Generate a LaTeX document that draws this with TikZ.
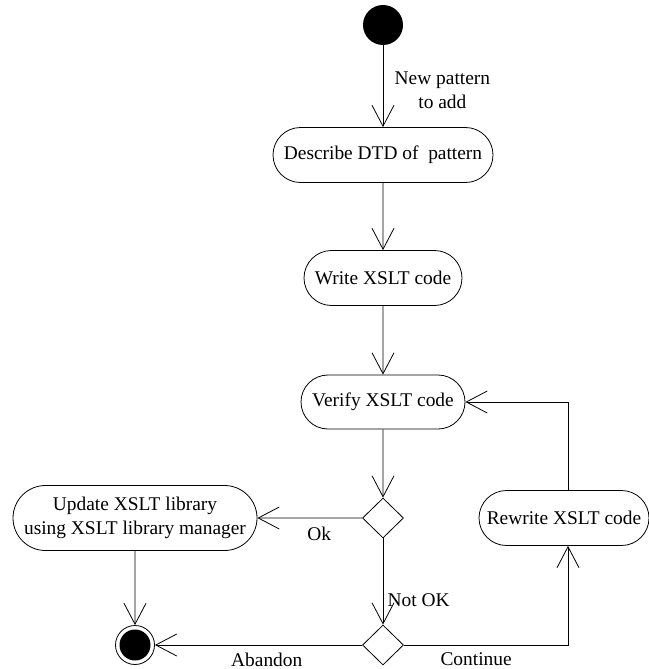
\documentclass[tikz,border=0pt]{standalone}
\usepackage{fontspec}
\setmainfont{Liberation Serif}
\usepackage{tikz}
\usetikzlibrary{arrows.meta, positioning, shapes.geometric, shapes.misc}

\begin{document}
\begin{tikzpicture}[
          x=1pt, y=-1pt,
          every node/.style={font=\fontsize{19.4}{23.5}\selectfont},
          activity/.style={rounded rectangle, draw, line width=0.8pt, inner sep=0pt, align=center},
          decision/.style={diamond, draw, line width=0.8pt, inner sep=0pt, minimum width=41pt, minimum height=40pt},
          flow/.style={->, draw, line width=0.8pt},
          >={Straight Barb[length=21pt, width=22pt, line width=0.8pt]}
        ]
        \useasboundingbox (0,0) rectangle (648,669);
        \node [circle, fill=black, minimum size=40pt, inner sep=0pt] (start) at (383,25) {};
        \node [activity, minimum width=220pt, minimum height=55pt] (dtd) at (383,155) {Describe DTD of\ \ pattern};
        \node [activity, minimum width=158pt, minimum height=55pt] (write) at (383,278) {Write XSLT code};
        \node [activity, minimum width=164pt, minimum height=54pt] (verify) at (383,402) {Verify XSLT code};
        \node [decision] (d1) at (383,518) {};
        \node [decision] (d2) at (383,645) {};
        \node [activity, minimum width=244pt, minimum height=65pt] (update) at (135,518) {Update XSLT library\\using XSLT library manager};
        \node [activity, minimum width=170pt, minimum height=55pt] (rewrite) at (564,518) {Rewrite XSLT code};
        \node [circle, draw, line width=0.8pt, minimum size=39pt, inner sep=0pt] (end) at (135,645) {};
        \node [circle, fill=black, minimum size=31pt, inner sep=0pt] (endin) at (end.center) {};
        \coordinate (c1) at (568,645);
        \coordinate (c2) at (568,402);

        \path [flow] (start) -- (dtd) node [pos=0.55, right=8pt, align=center] {New pattern\\to add};
        \path [flow] (dtd) -- (write);
        \path [flow] (write) -- (verify);
        \path [flow] (verify) -- (d1);
        \path [flow] (d1) -- (update) node [pos=0.41, below=5pt] {Ok};
        \path [flow] (update) -- (end);
        \path [flow] (d1) -- (d2) node [pos=0.72, right=1pt] {Not OK};
        \path [flow] (d2) -- (end) node [pos=0.46, below=4pt] {Abandon};
        \path [flow] (d2.east) -- (c1) node [pos=0.44, below=4pt] {Continue} -- (rewrite.south -| c1);
        \path [flow] (rewrite.north -| c1) -- (c2) -- (verify.east);
\end{tikzpicture}
\end{document}
